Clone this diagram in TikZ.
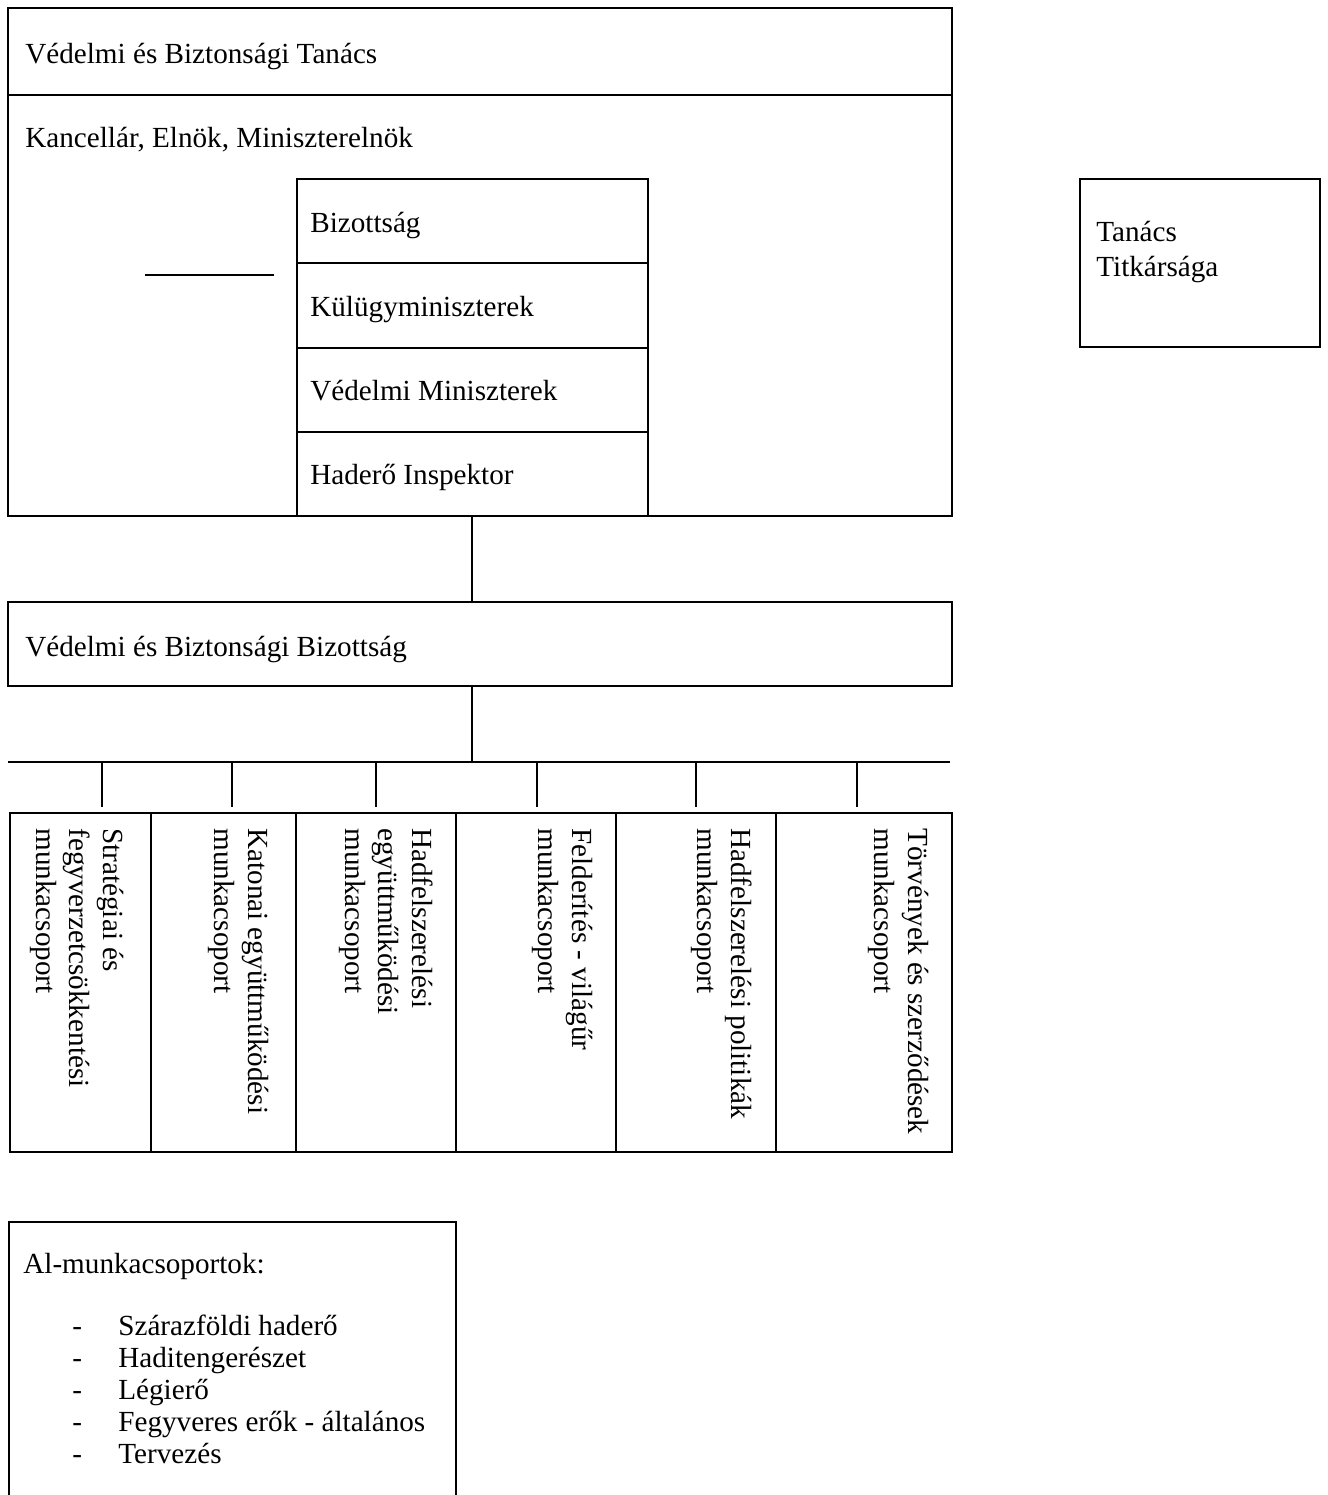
\documentclass[tikz,border=0pt]{standalone}
\usepackage{fontspec}
\setmainfont{Liberation Serif}
\usetikzlibrary{fit}

\begin{document}
\begin{tikzpicture}[
    x=0.02cm, y=-0.02cm,
    panel/.style={draw, line width=1.5pt, inner sep=0pt},
    entry/.style={anchor=base west, inner sep=0pt, font=\fontsize{16.6}{19}\selectfont},
    ventry/.style={rotate=-90, anchor=north west, inner sep=0pt, align=left, font=\fontsize{16.6}{19}\selectfont},
    link/.style={line width=1.1pt}
]
  \path[use as bounding box, clip] (0,0) rectangle (1328,1495);

  % council and its members
  \node[panel, fit={(8,8) (952,95)}] (tanacs) {};
  \node[panel, fit={(8,95) (952,516)}] (vezetok) {};
  \node[panel, fit={(297,179) (648,263)}] (bizottsag) {};
  \node[panel, fit={(297,263) (648,348)}] (kulugy) {};
  \node[panel, fit={(297,348) (648,432)}] (vedelmi) {};
  \node[panel, fit={(297,432) (648,516)}] (inspektor) {};
  \node[panel, fit={(1080,179) (1320,347)}] (titkarsag) {};

  \node[entry] (tanacs-t) at (25,63) {Védelmi és Biztonsági Tanács};
  \node[entry] (vezetok-t) at (25,147) {Kancellár, Elnök, Miniszterelnök};
  \node[entry] (bizottsag-t) at (310,232) {Bizottság};
  \node[entry] (kulugy-t) at (310,316) {Külügyminiszterek};
  \node[entry] (vedelmi-t) at (310,400) {Védelmi Miniszterek};
  \node[entry] (inspektor-t) at (310,484) {Haderő Inspektor};
  \node[entry, anchor=west, align=left, font=\fontsize{16.6}{20.4}\selectfont]
    (titkarsag-t) at (1096,252) {Tanács\\Titkársága};

  \coordinate (spare-l) at (145,275);
  \coordinate (spare-r) at (274,275);
  \draw[link] (spare-l) -- (spare-r);

  % committee
  \node[panel, fit={(8,602) (952,686)}] (vbb) {};
  \node[entry] (vbb-t) at (25,656) {Védelmi és Biztonsági Bizottság};

  \coordinate (axis) at (472,0);
  \coordinate (bus-l) at (8,762);
  \coordinate (bus-r) at (950,762);
  \draw[link] (vezetok.south -| axis) -- (vbb.north -| axis);
  \draw[link] (vbb.south -| axis) -- (bus-l -| axis);
  \draw[link] (bus-l) -- (bus-r);

  % working groups
  \foreach \name/\l/\r/\x in {wg1/10/151/102, wg2/151/296/232, wg3/296/456/376,
                              wg4/456/616/537, wg5/616/776/696, wg6/776/952/857} {
    \node[panel, fit={(\l,813) (\r,1152)}] (\name) {};
    \draw[link, shorten >=0.1cm] (\x,0 |- bus-l) -- (\x,0 |- \name.north);
  }

  \node[ventry] (wg1-t) at (124,828) {Stratégiai és\\fegyverzetcsökkentési\\munkacsoport};
  \node[ventry] (wg2-t) at (269,828) {Katonai együttműködési\\munkacsoport};
  \node[ventry] (wg3-t) at (433,828) {Hadfelszerelési\\együttműködési\\munkacsoport};
  \node[ventry] (wg4-t) at (593,828) {Felderítés - világűr\\munkacsoport};
  \node[ventry] (wg5-t) at (752,828) {Hadfelszerelési politikák\\munkacsoport};
  \node[ventry] (wg6-t) at (929,828) {Törvények és szerződések\\munkacsoport};

  % sub-groups
  \node[panel, fit={(9,1222) (456,1560)}] (al) {};
  \node[entry] (al-t) at (23,1273) {Al-munkacsoportok:};
  \foreach \t [count=\i] in {Szárazföldi haderő, Haditengerészet, Légierő,
                             Fegyveres erők - általános, Tervezés} {
    \node[entry] (dash\i) at (72,1303+32*\i) {-};
    \node[entry] (item\i) at (118,1303+32*\i) {\t};
  }
\end{tikzpicture}
\end{document}
